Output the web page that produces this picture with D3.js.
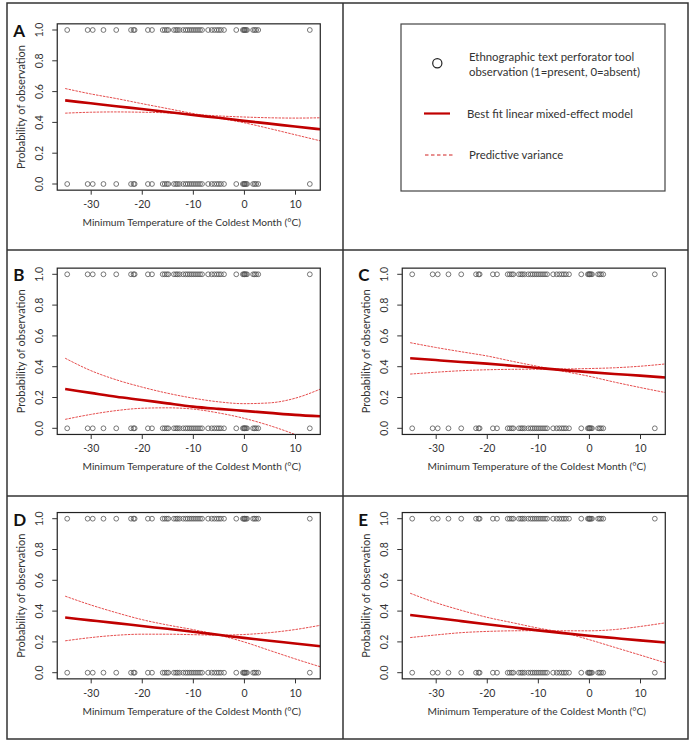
<!DOCTYPE html>
<html>
<head>
<meta charset="UTF-8">
<title></title>
<script src="https://cdn.jsdelivr.net/npm/d3@7/dist/d3.min.js"></script>
<style>
  * { margin: 0; padding: 0; }
  body { background: #fff; }
  #mychart { width: 695px; height: 746px; }
  text { font-family: "Lato", "Liberation Sans", Arial, sans-serif; fill: #333; }
</style>
</head>
<body>
<div id="mychart"></div>
<script>
// temperatures of the ethnographic sites (same set shown at 1 and at 0)
var siteTemps = [-34.6, -30.6, -29.6, -27.5, -25.0, -22.1, -21.6, -21.4, -18.8, -18.0,
  -15.9, -15.5, -15.1, -14.8, -13.7, -13.3, -13.0, -12.6, -11.9, -11.4, -11.0, -10.6,
  -10.2, -9.8, -9.4, -9.0, -8.6, -8.2, -7.0, -6.3, -5.8, -5.3, -4.9, -4.5, -3.9,
  -1.5, -0.2, 0.0, 0.1, 0.2, 0.4, 0.6, 1.8, 2.1, 2.4, 2.8, 12.9];
var obsValues = [0, 1];

// x positions the model curves were read at
var curveTemps = [-35, -30, -25, -20, -15, -10, -5, 0, 5, 10, 15];

var fitA  = [0.543, 0.524, 0.505, 0.487, 0.468, 0.448, 0.430, 0.410, 0.392, 0.373, 0.355];
var bandA1 = [0.620, 0.585, 0.555, 0.522, 0.490, 0.458, 0.428, 0.398, 0.360, 0.320, 0.280];
var bandA2 = [0.460, 0.466, 0.468, 0.466, 0.462, 0.452, 0.442, 0.435, 0.430, 0.428, 0.430];

var fitB  = [0.255, 0.230, 0.205, 0.184, 0.162, 0.141, 0.126, 0.113, 0.100, 0.087, 0.078];
var bandB1 = [0.455, 0.375, 0.315, 0.268, 0.228, 0.196, 0.172, 0.160, 0.165, 0.195, 0.255];
var bandB2 = [0.058, 0.090, 0.115, 0.130, 0.133, 0.125, 0.100, 0.065, 0.018, -0.040, -0.110];

var fitC  = [0.455, 0.443, 0.431, 0.420, 0.406, 0.392, 0.378, 0.365, 0.353, 0.342, 0.330];
var bandC1 = [0.556, 0.525, 0.497, 0.470, 0.435, 0.402, 0.370, 0.338, 0.300, 0.265, 0.232];
var bandC2 = [0.352, 0.364, 0.374, 0.380, 0.383, 0.384, 0.385, 0.388, 0.393, 0.403, 0.418];

var fitD  = [0.358, 0.340, 0.322, 0.303, 0.285, 0.266, 0.246, 0.226, 0.207, 0.190, 0.172];
var bandD1 = [0.497, 0.440, 0.390, 0.345, 0.310, 0.280, 0.245, 0.200, 0.145, 0.090, 0.038];
var bandD2 = [0.207, 0.228, 0.243, 0.250, 0.250, 0.247, 0.244, 0.248, 0.260, 0.280, 0.308];

var fitE  = [0.375, 0.355, 0.335, 0.315, 0.295, 0.275, 0.257, 0.240, 0.225, 0.210, 0.196];
var bandE1 = [0.516, 0.455, 0.405, 0.360, 0.325, 0.290, 0.260, 0.215, 0.165, 0.115, 0.064];
var bandE2 = [0.228, 0.245, 0.260, 0.268, 0.272, 0.273, 0.272, 0.272, 0.280, 0.300, 0.324];

var xTicks = [-30, -20, -10, 0, 10];
var yTicks = [0, 0.2, 0.4, 0.6, 0.8, 1.0];
var xTitle = "Minimum Temperature of the Coldest Month (\u00B0C)";
var yTitle = "Probability of observation";
var legendLabels = ["Ethnographic text perforator tool", "observation (1=present, 0=absent)",
  "Best fit linear mixed-effect model", "Predictive variance"];

var panels = [
  {name: "A", col: 0, row: 0, fit: fitA, b1: bandA1, b2: bandA2},
  {name: "B", col: 0, row: 1, fit: fitB, b1: bandB1, b2: bandB2},
  {name: "C", col: 1, row: 1, fit: fitC, b1: bandC1, b2: bandC2},
  {name: "D", col: 0, row: 2, fit: fitD, b1: bandD1, b2: bandD2},
  {name: "E", col: 1, row: 2, fit: fitE, b1: bandE1, b2: bandE2}
];

var W = 695, H = 746;
var svg = d3.select("#mychart").append("svg").attr("width", W).attr("height", H);

// frame of the figure
var frameX = [7, 343, 688];
var frameY = [3, 250, 496, 739];
var gFrame = svg.append("g").attr("stroke", "#333").attr("stroke-width", 1.5).attr("fill", "none");
gFrame.append("rect").attr("x", frameX[0]).attr("y", frameY[0])
  .attr("width", frameX[2] - frameX[0]).attr("height", frameY[3] - frameY[0]);
gFrame.append("line").attr("x1", frameX[1]).attr("x2", frameX[1]).attr("y1", frameY[0]).attr("y2", frameY[3]);
[frameY[1], frameY[2]].forEach(function(y) {
  gFrame.append("line").attr("x1", frameX[0]).attr("x2", frameX[2]).attr("y1", y).attr("y2", y);
});

// plot geometry
var colShift = [0, 345];
var rowY1 = [30, 274.3, 518.7];   // pixel of prob = 1
var yLen = 154;                   // pixels from 0 to 1
var xDomain = [-36.55, 14.95];
var xBase = d3.scaleLinear().domain([-30, 10]).range([90.7, 295]);

var clipN = 0;
panels.forEach(function(p) {
  var x = d3.scaleLinear().domain(xDomain)
    .range([xBase(xDomain[0]) + colShift[p.col], xBase(xDomain[1]) + colShift[p.col]]);
  var y = d3.scaleLinear().domain([0, 1]).range([rowY1[p.row] + yLen, rowY1[p.row]]);
  var x0 = x.range()[0], x1 = x.range()[1];
  var yTop = y(1.04), yBot = y(-0.04);

  var g = svg.append("g");
  var cid = "clip" + (clipN++);
  g.append("clipPath").attr("id", cid).append("rect")
    .attr("x", x0).attr("y", yTop).attr("width", x1 - x0).attr("height", yBot - yTop);

  // points
  var gp = g.append("g").attr("fill", "none").attr("stroke", "#555").attr("stroke-width", 0.8);
  obsValues.forEach(function(v) {
    gp.selectAll(null).data(siteTemps).enter().append("circle")
      .attr("cx", function(d) { return x(d); })
      .attr("cy", y(v))
      .attr("r", 2.4);
  });

  // model curves
  var line = function(vals) {
    return d3.line().x(function(d, i) { return x(curveTemps[i]); })
      .y(function(d) { return y(d); }).curve(d3.curveMonotoneX)(vals);
  };
  var gc = g.append("g").attr("clip-path", "url(#" + cid + ")").attr("fill", "none");
  [p.b1, p.b2].forEach(function(b) {
    gc.append("path").attr("d", line(b)).attr("stroke", "#e23a3a")
      .attr("stroke-width", 1).attr("stroke-dasharray", "2.5,1").attr("opacity", 0.9);
  });
  gc.append("path").attr("d", line(p.fit)).attr("stroke", "#c00000").attr("stroke-width", 2.6);

  // box
  g.append("rect").attr("x", x0).attr("y", yTop).attr("width", x1 - x0).attr("height", yBot - yTop)
    .attr("fill", "none").attr("stroke", "#222").attr("stroke-width", 1.2);

  // axes
  var gx = g.append("g").attr("transform", "translate(0," + yBot + ")")
    .call(d3.axisBottom(x).tickValues(xTicks).tickSize(4.5).tickPadding(6)
      .tickFormat(function(d) { return String(d); }));
  gx.select(".domain").remove();
  gx.selectAll("line").attr("stroke", "#333");
  gx.selectAll("text").style("font-size", "10.5px").attr("fill", "#333");

  var gy = g.append("g").attr("transform", "translate(" + x0 + ",0)")
    .call(d3.axisLeft(y).tickValues(yTicks).tickSize(5).tickFormat(d3.format(".1f")));
  gy.select(".domain").remove();
  gy.selectAll("line").attr("stroke", "#333");
  gy.selectAll("text").style("font-size", "10.5px").attr("fill", "#333")
    .attr("text-anchor", "middle").attr("x", 0).attr("dy", 0)
    .attr("transform", function(d) { return "translate(-14," + y(d) + ") rotate(-90)"; })
    .attr("y", 0);
  gy.selectAll(".tick").attr("transform", null);
  gy.selectAll(".tick line").attr("y1", function(d) { return y(d); }).attr("y2", function(d) { return y(d); });

  // titles
  g.append("text").attr("x", (x0 + x1) / 2 + 3).attr("y", rowY1[p.row] + 196)
    .attr("text-anchor", "middle").style("font-size", "10.2px").text(xTitle);
  g.append("text").attr("transform", "translate(" + (x0 - 32) + "," + y(0.5) + ") rotate(-90)")
    .attr("text-anchor", "middle").style("font-size", "11px").text(yTitle);
  g.append("text").attr("x", x0 - 44).attr("y", rowY1[p.row] + 7)
    .style("font-size", "17px").style("font-weight", "bold").style("fill", "#111").text(p.name);
});

// legend panel
var lg = svg.append("g");
var lx0 = 401, lx1 = 665, ly0 = 24, ly1 = 191;
lg.append("rect").attr("x", lx0).attr("y", ly0).attr("width", lx1 - lx0).attr("height", ly1 - ly0)
  .attr("fill", "none").attr("stroke", "#444").attr("stroke-width", 1.2);
lg.append("circle").attr("cx", 437.3).attr("cy", 63.3).attr("r", 4.6)
  .attr("fill", "none").attr("stroke", "#222").attr("stroke-width", 1.2);
lg.append("text").attr("x", 469).attr("y", 61).style("font-size", "11.4px").text(legendLabels[0]);
lg.append("text").attr("x", 469).attr("y", 76).style("font-size", "11.4px").text(legendLabels[1]);
lg.append("line").attr("x1", 424).attr("x2", 450).attr("y1", 113.5).attr("y2", 113.5)
  .attr("stroke", "#c00000").attr("stroke-width", 2.2);
lg.append("text").attr("x", 467).attr("y", 117.5).style("font-size", "11.4px").text(legendLabels[2]);
lg.append("line").attr("x1", 425).attr("x2", 454).attr("y1", 155).attr("y2", 155)
  .attr("stroke", "#d02020").attr("stroke-width", 1).attr("stroke-dasharray", "3.5,2.5");
lg.append("text").attr("x", 469).attr("y", 159).style("font-size", "11.4px").text(legendLabels[3]);
</script>
</body>
</html>
